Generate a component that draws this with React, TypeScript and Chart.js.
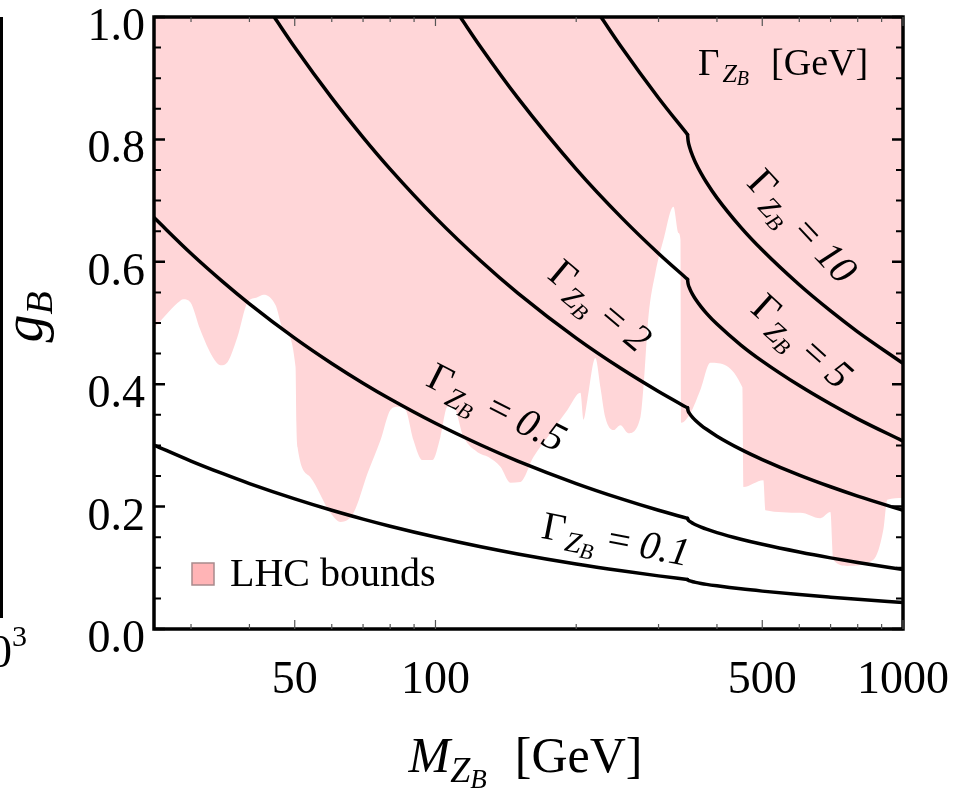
import React, { useEffect, useRef } from 'react';
import { Chart, registerables } from 'chart.js';

Chart.register(...registerables);

// ---------------- data ----------------
// LHC excluded region: lower boundary (mass in GeV, coupling g_B); excluded above it
const lhcMass = [
  25.0, 26.5, 28.1, 28.9, 29.9, 31.4, 33.4, 34.7, 35.9, 37.7, 39.6, 41.6, 42.9, 45.5, 47.3,
  50.2, 50.4, 50.7, 54.0, 59.6, 62.7, 66.8, 71.6, 76.3, 80.1, 83.0, 86.3, 89.7, 93.8, 98.5,
  102.5, 106.1, 109.3, 114.8, 123.0, 129.8, 137.7, 144.7, 151.9, 162.0, 176.2, 191.5, 204.2,
  207.3, 211.3, 219.8, 225.3, 230.9, 240.2, 248.6, 258.6, 274.4, 278.5, 285.4, 295.4, 307.3,
  322.8, 330.9, 334.2, 335.7, 351.0, 368.7, 387.3, 453.3, 455.6, 502.7, 507.7, 603.3, 665.7,
  699.3, 709.6, 760.2, 864.4, 907.6, 925.6, 1000,
];
const lhcCoupling = [
  0.492, 0.513, 0.533, 0.539, 0.534, 0.489, 0.444, 0.431, 0.436, 0.477, 0.533, 0.542, 0.546, 0.529, 0.489,
  0.428, 0.337, 0.297, 0.248, 0.190, 0.175, 0.190, 0.255, 0.309, 0.358, 0.363, 0.358, 0.309, 0.276, 0.276,
  0.314, 0.363, 0.363, 0.314, 0.289, 0.281, 0.265, 0.239, 0.240, 0.281, 0.320, 0.358, 0.386,
  0.342, 0.374, 0.443, 0.395, 0.345, 0.325, 0.333, 0.320, 0.346, 0.395, 0.510, 0.582, 0.636,
  0.690, 0.647, 0.636, 0.337, 0.353, 0.391, 0.435, 0.395, 0.232, 0.243, 0.194, 0.190, 0.181,
  0.191, 0.113, 0.103, 0.113, 0.162, 0.211, 0.214,
];

// Constant-width contours Γ_{Z_B}; the top-quark threshold (346 GeV) splits each contour
const topThreshold = 346;

const gamma10Mass = [226, 250, 300, 346, 347, 350, 355, 360, 370, 380, 400, 450, 500, 600, 700, 800, 1000];
const gamma10Coupling = [1.0, 0.9506, 0.8677, 0.808, 0.7979, 0.786, 0.7726, 0.7619, 0.7444, 0.7295, 0.7045, 0.6562, 0.6191, 0.5624, 0.5197, 0.4856, 0.4341];

const gamma5Mass = [113, 125, 150, 200, 250, 300, 346, 347, 350, 355, 360, 370, 380, 400, 450, 500, 600, 700, 800, 1000];
const gamma5Coupling = [1.0, 0.9506, 0.8678, 0.7515, 0.6722, 0.6136, 0.5714, 0.5641, 0.5558, 0.5463, 0.5388, 0.5264, 0.5158, 0.4982, 0.464, 0.4377, 0.3977, 0.3675, 0.3434, 0.307];

const gamma2Mass = [45.2, 50, 60, 70, 80, 100, 125, 150, 200, 250, 300, 346, 347, 350, 355, 360, 370, 380, 400, 450, 500, 600, 700, 800, 1000];
const gamma2Coupling = [1.0, 0.9506, 0.8678, 0.8034, 0.7515, 0.6722, 0.6013, 0.5489, 0.4753, 0.4251, 0.3881, 0.3614, 0.3568, 0.3515, 0.3455, 0.3408, 0.3329, 0.3263, 0.3151, 0.2935, 0.2769, 0.2515, 0.2324, 0.2172, 0.1941];

const gammaLowMass = [25, 30, 35, 40, 50, 60, 70, 80, 100, 125, 150, 200, 250, 300, 346, 347, 350, 355, 360, 370, 380, 400, 450, 500, 600, 700, 800, 1000];
const gamma05Coupling = [0.6722, 0.6136, 0.5681, 0.5314, 0.4753, 0.4339, 0.4017, 0.3758, 0.3361, 0.3006, 0.2744, 0.2377, 0.2126, 0.194, 0.1807, 0.1784, 0.1758, 0.1728, 0.1704, 0.1665, 0.1631, 0.1575, 0.1467, 0.1384, 0.1258, 0.1162, 0.1086, 0.0971];
const gamma01Coupling = [0.3006, 0.2744, 0.2541, 0.2376, 0.2126, 0.194, 0.1796, 0.168, 0.1503, 0.1344, 0.1227, 0.1063, 0.0951, 0.0868, 0.0808, 0.0798, 0.0786, 0.0773, 0.0762, 0.0744, 0.0729, 0.0705, 0.0656, 0.0619, 0.0562, 0.052, 0.0486, 0.0434];

const widthLabelTexts = ['10', '5', '2', '0.5', '0.1'];

// axis ticks
const xLabelTicks = [50, 100, 500, 1000];
const xMinorTicks = [30, 40, 60, 70, 80, 90, 200, 300, 400, 600, 700, 800, 900];
const yLabelTicks = [0, 0.2, 0.4, 0.6, 0.8, 1.0];
const yMinorTicks = [0.05, 0.1, 0.15, 0.25, 0.3, 0.35, 0.45, 0.5, 0.55, 0.65, 0.7, 0.75, 0.85, 0.9, 0.95];

// ---------------- styling ----------------
const SERIF = '"Liberation Serif", "DejaVu Serif", serif';
const rm = (s: number) => `${s}px ${SERIF}`;
const it = (s: number) => `italic ${s}px ${SERIF}`;
const PINK = '#ffd6d8';

// label placement in data coordinates (mass, coupling) with rotation angle
const widthLabelPlacement = [
  { mass: 603, coupling: 0.655, angle: 47 },
  { mass: 603, coupling: 0.467, angle: 42 },
  { mass: 223, coupling: 0.5245, angle: 40 },
  { mass: 134.4, coupling: 0.358, angle: 27 },
  { mass: 242.6, coupling: 0.142, angle: 11 },
];

type Part = { t: string; f: string; dy?: number; dx?: number };

function drawParts(
  ctx: CanvasRenderingContext2D,
  parts: Part[],
  x: number,
  y: number,
  angle: number,
  align: 'left' | 'center' | 'right',
  shift = 0
) {
  ctx.save();
  ctx.translate(x, y);
  ctx.rotate((angle * Math.PI) / 180);
  ctx.textBaseline = 'alphabetic';
  ctx.textAlign = 'left';
  ctx.fillStyle = '#000';
  let total = 0;
  const widths = parts.map((p) => {
    ctx.font = p.f;
    const w = ctx.measureText(p.t).width + (p.dx || 0);
    total += w;
    return w;
  });
  let cx = align === 'center' ? -total / 2 : align === 'right' ? -total : 0;
  parts.forEach((p, i) => {
    ctx.font = p.f;
    ctx.fillText(p.t, cx + (p.dx || 0), (p.dy || 0) + shift);
    cx += widths[i];
  });
  ctx.restore();
}

function gammaParts(value: string, s: number): Part[] {
  return [
    { t: 'Γ', f: rm(s) },
    { t: 'Z', f: it(Math.round(s * 0.72)), dy: s * 0.2, dx: 2 },
    { t: 'B', f: it(Math.round(s * 0.55)), dy: s * 0.3 },
    { t: ' = ', f: rm(s), dx: 2 },
    { t: value, f: it(s) },
  ];
}

const decorPlugin = {
  id: 'decor',
  afterDatasetsDraw(chart: any) {
    const ctx: CanvasRenderingContext2D = chart.ctx;
    const { left, right, top, bottom } = chart.chartArea;
    const xs = chart.scales.x;
    const ys = chart.scales.y;

    // curve labels
    widthLabelTexts.forEach((txt, i) => {
      const p = widthLabelPlacement[i];
      drawParts(ctx, gammaParts(txt, 40), xs.getPixelForValue(p.mass), ys.getPixelForValue(p.coupling), p.angle, 'center', 10);
    });

    // header label
    drawParts(
      ctx,
      [
        { t: 'Γ', f: rm(37) },
        { t: 'Z', f: it(26), dy: 7, dx: 3 },
        { t: 'B', f: it(20), dy: 10 },
        { t: '[GeV]', f: rm(38), dx: 22 },
      ],
      right - 205,
      top + 58,
      0,
      'left'
    );

    // legend
    ctx.save();
    ctx.fillStyle = '#ffb4b6';
    ctx.strokeStyle = '#a88a8c';
    ctx.lineWidth = 1.5;
    ctx.fillRect(left + 38, bottom - 66, 22, 22);
    ctx.strokeRect(left + 38, bottom - 66, 22, 22);
    ctx.restore();
    drawParts(ctx, [{ t: 'LHC bounds', f: rm(40) }], left + 76, bottom - 43, 0, 'left');

    // frame
    ctx.save();
    ctx.strokeStyle = '#000';
    ctx.lineWidth = 3.5;
    ctx.strokeRect(left, top, right - left, bottom - top);

    // y ticks (left and right, inward)
    ctx.lineWidth = 2.5;
    yLabelTicks.forEach((v) => {
      const py = ys.getPixelForValue(v);
      ctx.beginPath();
      ctx.moveTo(left, py); ctx.lineTo(left + 11, py);
      ctx.moveTo(right, py); ctx.lineTo(right - 11, py);
      ctx.stroke();
    });
    ctx.lineWidth = 2;
    yMinorTicks.forEach((v) => {
      const py = ys.getPixelForValue(v);
      ctx.beginPath();
      ctx.moveTo(left, py); ctx.lineTo(left + 7, py);
      ctx.moveTo(right, py); ctx.lineTo(right - 7, py);
      ctx.stroke();
    });
    // x ticks (top and bottom, inward)
    ctx.strokeStyle = '#555';
    ctx.lineWidth = 1.2;
    xLabelTicks.forEach((v) => {
      const px = xs.getPixelForValue(v);
      ctx.beginPath();
      ctx.moveTo(px, bottom); ctx.lineTo(px, bottom - 9);
      ctx.moveTo(px, top); ctx.lineTo(px, top + 9);
      ctx.stroke();
    });
    xMinorTicks.forEach((v) => {
      const px = xs.getPixelForValue(v);
      ctx.beginPath();
      ctx.moveTo(px, bottom); ctx.lineTo(px, bottom - 5);
      ctx.moveTo(px, top); ctx.lineTo(px, top + 5);
      ctx.stroke();
    });
    ctx.restore();

    // tick labels
    ctx.save();
    ctx.fillStyle = '#000';
    ctx.font = rm(46);
    ctx.textAlign = 'right';
    ctx.textBaseline = 'alphabetic';
    yLabelTicks.forEach((v) => {
      ctx.fillText(v.toFixed(1), left - 9, ys.getPixelForValue(v) + 23);
    });
    ctx.textAlign = 'center';
    xLabelTicks.forEach((v) => {
      ctx.fillText(String(v), xs.getPixelForValue(v), bottom + 64);
    });

    // fragment of neighbouring panel on the far left
    ctx.textAlign = 'right';
    ctx.fillText('10', 12, 667);
    ctx.font = rm(30);
    ctx.textAlign = 'left';
    ctx.fillText('3', 12, 646);
    ctx.fillRect(0, 17, 3, 601);
    ctx.restore();

    // axis titles
    drawParts(
      ctx,
      [
        { t: 'M', f: it(50) },
        { t: 'Z', f: it(36), dy: 10 },
        { t: 'B', f: it(27), dy: 16 },
        { t: '[GeV]', f: rm(50), dx: 28 },
      ],
      (left + right) / 2 - 3,
      bottom + 143,
      0,
      'center'
    );
    drawParts(
      ctx,
      [
        { t: 'g', f: it(56) },
        { t: 'B', f: it(38), dy: 10 },
      ],
      42,
      (top + bottom) / 2 - 6,
      -90,
      'center'
    );
  },
};

const curveSets = [
  { mass: gamma10Mass, coupling: gamma10Coupling },
  { mass: gamma5Mass, coupling: gamma5Coupling },
  { mass: gamma2Mass, coupling: gamma2Coupling },
  { mass: gammaLowMass, coupling: gamma05Coupling },
  { mass: gammaLowMass, coupling: gamma01Coupling },
];

function curveSegments(mass: number[], coupling: number[]) {
  const pts = mass.map((m, i) => ({ x: m, y: coupling[i] }));
  const below = pts.filter((p) => p.x <= topThreshold);
  const above = pts.filter((p) => p.x >= topThreshold);
  return [below, above];
}

export default function App() {
  const ref = useRef<HTMLCanvasElement>(null);
  useEffect(() => {
    const lineDatasets: any[] = [];
    curveSets.forEach((c) => {
      curveSegments(c.mass, c.coupling).forEach((seg) => {
        lineDatasets.push({
          data: seg,
          fill: false,
          borderColor: '#000',
          borderWidth: 3.5,
          pointRadius: 0,
          cubicInterpolationMode: 'monotone',
          borderCapStyle: 'round',
          order: 0,
        });
      });
    });
    const chart = new Chart(ref.current as HTMLCanvasElement, {
      type: 'line',
      data: {
        datasets: [
          {
            data: lhcMass.map((m, i) => ({ x: m, y: lhcCoupling[i] })),
            fill: 'end',
            backgroundColor: PINK,
            borderColor: 'rgba(0,0,0,0)',
            borderWidth: 0,
            pointRadius: 0,
            cubicInterpolationMode: 'monotone',
            order: 10,
          },
          ...lineDatasets,
        ],
      } as any,
      options: {
        animation: false,
        responsive: true,
        maintainAspectRatio: false,
        events: [],
        layout: { padding: { left: 154, right: 53, top: 17, bottom: 160 } },
        scales: {
          x: { type: 'logarithmic', min: 25, max: 1000, display: false },
          y: { type: 'linear', min: 0, max: 1, display: false },
        },
        plugins: { legend: { display: false }, tooltip: { enabled: false } },
      } as any,
      plugins: [decorPlugin],
    });
    return () => chart.destroy();
  }, []);
  return (
    <div style={{ position: 'fixed', left: 0, top: 0, width: 956, height: 789, background: '#fff' }}>
      <canvas ref={ref} />
    </div>
  );
}
